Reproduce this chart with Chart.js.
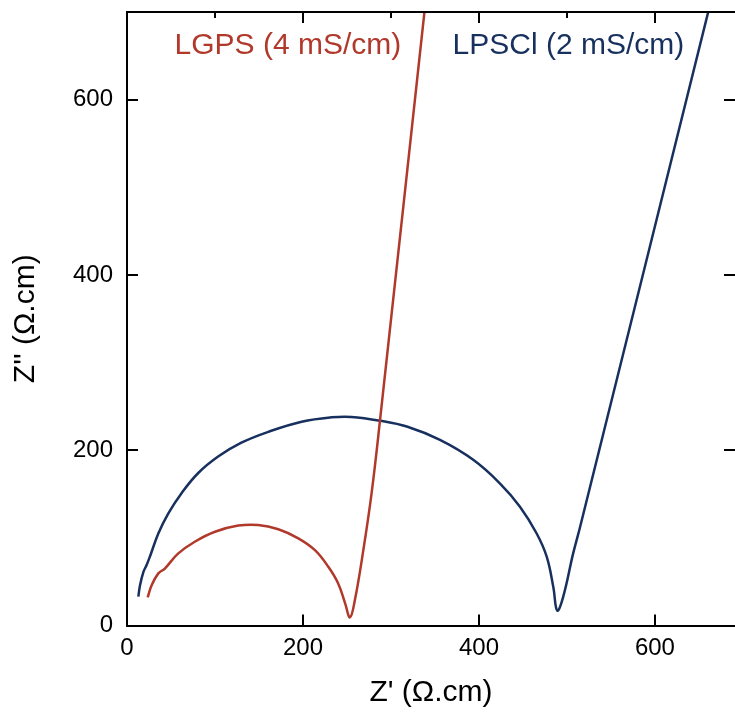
<!DOCTYPE html>
<html>
<head>
<meta charset="utf-8">
<script src="https://cdn.jsdelivr.net/npm/chart.js@4.4.0/dist/chart.umd.min.js"></script>
<style>
  html, body { margin: 0; padding: 0; background: #fff; }
  canvas { display: block; }
</style>
</head>
<body>
<canvas id="myChart" width="735" height="717"></canvas>
<script>
const ctx = document.getElementById('myChart').getContext('2d');

const FONT = "'Liberation Sans', Arial, sans-serif";
const RED = '#b0392b';
const NAVY = '#17305e';

// LGPS impedance (Z', Z'')
const lgpsX = [23.5, 28, 35.6, 43, 58, 77, 100, 126.5, 149, 172, 194.7, 213.6, 228.8, 240, 248, 253.4, 259, 268.6, 278, 287.5, 340];
const lgpsY = [32, 46, 59.5, 65, 82, 95.6, 107, 114, 114.7, 109.8, 99.5, 86, 67, 48, 25, 9.3, 29, 86, 151, 233.7, 718];

// LPSCl impedance (Z', Z'')
const lpsclX = [12.9, 14.8, 18.6, 22.3, 26, 35.6, 47, 62, 81, 104, 130, 160.6, 198.5, 232.6, 255, 287.5, 318, 355.7, 393.5, 424, 446.6, 465.6, 477, 484.5, 489, 495.8, 507, 515, 665];
const lpsclY = [32.9, 46, 61, 69, 78.5, 105, 128, 151, 174, 193, 208.6, 221, 232.5, 237.5, 238, 233.7, 227, 211.7, 189, 162, 135.6, 105, 78.5, 44, 17, 33, 82, 112.7, 718];

const xTicks = [0, 200, 400, 600];
const yTicks = [0, 200, 400, 600];
const topMinorTicks = [100, 300, 500];

const seriesLabels = ['LGPS (4 mS/cm)', 'LPSCl (2 mS/cm)'];
const labelX = [54, 370];
const labelY = [661, 661];

const toPoints = (xs, ys) => xs.map((v, i) => ({ x: v, y: ys[i] }));

// frame, inward ticks and in-plot labels
const framePlugin = {
  id: 'frame',
  afterDraw(chart) {
    const { ctx, chartArea: a, scales: { x, y } } = chart;
    ctx.save();
    ctx.strokeStyle = '#000';
    ctx.lineWidth = 2;
    ctx.beginPath();
    ctx.moveTo(a.left - 1, a.top);
    ctx.lineTo(a.right, a.top);
    xTicks.forEach(v => {
      const px = Math.round(x.getPixelForValue(v));
      if (v > 0) {
        ctx.moveTo(px, a.bottom); ctx.lineTo(px, a.bottom - 11);
        ctx.moveTo(px, a.top); ctx.lineTo(px, a.top + 11);
      }
    });
    topMinorTicks.forEach(v => {
      const px = Math.round(x.getPixelForValue(v));
      ctx.moveTo(px, a.top); ctx.lineTo(px, a.top + 6);
    });
    yTicks.forEach(v => {
      if (v === 0) return;
      const py = Math.round(y.getPixelForValue(v));
      ctx.moveTo(a.left, py); ctx.lineTo(a.left + 11, py);
      ctx.moveTo(a.right, py); ctx.lineTo(a.right - 11, py);
    });
    ctx.stroke();

    ctx.font = '30px ' + FONT;
    ctx.textAlign = 'left';
    ctx.textBaseline = 'middle';
    [RED, NAVY].forEach((c, i) => {
      ctx.fillStyle = c;
      ctx.fillText(seriesLabels[i], x.getPixelForValue(labelX[i]), y.getPixelForValue(labelY[i]));
    });
    ctx.restore();
  }
};

const data = {
  datasets: [{
    label: seriesLabels[0],
    data: toPoints(lgpsX, lgpsY),
    borderColor: RED,
  }, {
    label: seriesLabels[1],
    data: toPoints(lpsclX, lpsclY),
    borderColor: NAVY,
  }]
};

const config = {
  type: 'scatter',
  data: data,
  options: {
    responsive: false,
    animation: false,
    devicePixelRatio: 1,
    showLine: true,
    layout: { padding: { top: 12, right: 0, left: 0, bottom: 0 } },
    elements: {
      point: { radius: 0, hoverRadius: 0 },
      line: { borderWidth: 2.5, tension: 0.4, fill: false }
    },
    plugins: {
      legend: { display: false },
      tooltip: { enabled: false }
    },
    scales: {
      x: {
        type: 'linear',
        min: 0,
        max: 691,
        afterBuildTicks: s => { s.ticks = xTicks.map(v => ({ value: v })); },
        afterFit: s => { s.height = 91.5; s.paddingLeft = 0; s.paddingRight = 0; },
        grid: { display: false, drawTicks: false },
        border: { display: true, color: '#000', width: 2 },
        ticks: { color: '#000', font: { family: FONT, size: 24 }, padding: 8, maxRotation: 0, autoSkip: false },
        title: { display: true, text: "Z' (Ω.cm)", color: '#000', font: { family: FONT, size: 30 }, padding: { top: 0, bottom: 6 } }
      },
      y: {
        type: 'linear',
        min: 0,
        max: 700,
        afterBuildTicks: s => { s.ticks = yTicks.map(v => ({ value: v })); },
        afterFit: s => { s.width = 127; s.paddingTop = 0; s.paddingBottom = 0; },
        grid: { display: false, drawTicks: false },
        border: { display: true, color: '#000', width: 2 },
        ticks: { color: '#000', font: { family: FONT, size: 24 }, padding: 14, autoSkip: false },
        title: { display: true, text: "Z'' (Ω.cm)", color: '#000', font: { family: FONT, size: 30 }, padding: { top: 8, bottom: 0 } }
      }
    }
  },
  plugins: [framePlugin]
};

const myChart = new Chart(ctx, config);
</script>
</body>
</html>
